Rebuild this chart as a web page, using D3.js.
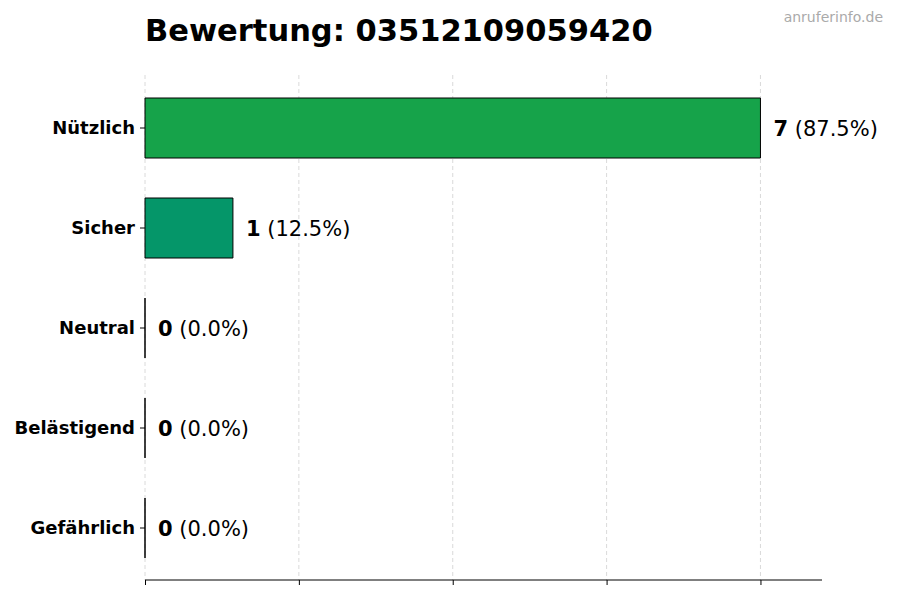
<!DOCTYPE html>
<html>
<head>
<meta charset="utf-8">
<script src="https://cdn.jsdelivr.net/npm/d3@7"></script>
<style>
  body { margin: 0; background: #fff; }
  svg { font-family: "DejaVu Sans", sans-serif; }
</style>
</head>
<body>
<svg id="chart" width="900" height="600"></svg>
<script>
var categories = ['Nützlich', 'Sicher', 'Neutral', 'Belästigend', 'Gefährlich'];
var counts = [7, 1, 0, 0, 0];
var percents = ['87.5%', '12.5%', '0.0%', '0.0%', '0.0%'];
var colors = ['#16a34a', '#059669', '#6b7280', '#f97316', '#dc2626'];
var tickValues = [0, 1.75, 3.5, 5.25, 7];

var svg = d3.select('#chart');

var plotLeft = 145;
var plotRight = 822;
var plotTop = 75;
var plotBottom = 580;

var x = d3.scaleLinear()
  .domain([0, d3.max(counts) * 1.1])
  .range([plotLeft, plotRight]);

var y = d3.scaleBand()
  .domain(categories)
  .range([plotTop + 3, plotBottom - 2])
  .paddingInner(0.4)
  .paddingOuter(0.2);

// grid
svg.append('g')
  .selectAll('line')
  .data(tickValues)
  .join('line')
  .attr('x1', function (d) { return x(d); })
  .attr('x2', function (d) { return x(d); })
  .attr('y1', plotTop)
  .attr('y2', plotBottom)
  .attr('stroke', '#d0d0d0')
  .attr('stroke-width', 0.8)
  .attr('stroke-dasharray', '4,3');

// bars (drawn as paths so zero-width bars still show their edge)
svg.append('g')
  .selectAll('path')
  .data(categories)
  .join('path')
  .attr('d', function (d, i) {
    var x0 = x(0), w = x(counts[i]) - x(0), y0 = y(d), h = y.bandwidth();
    return 'M' + x0 + ',' + y0 + 'h' + w + 'v' + h + 'h' + (-w) + 'Z';
  })
  .attr('fill', function (d, i) { return colors[i]; })
  .attr('stroke', '#000')
  .attr('stroke-width', 1);

// value labels
var labels = svg.append('g')
  .selectAll('text')
  .data(categories)
  .join('text')
  .attr('x', function (d, i) { return x(counts[i]) + 13; })
  .attr('y', function (d) { return y(d) + y.bandwidth() / 2; })
  .attr('dy', '0.36em')
  .attr('font-size', 21)
  .attr('fill', '#000');

labels.append('tspan')
  .attr('font-weight', 'bold')
  .text(function (d, i) { return counts[i]; });
labels.append('tspan')
  .text(function (d, i) { return ' (' + percents[i] + ')'; });

// y axis
var yAxis = svg.append('g')
  .attr('transform', 'translate(' + plotLeft + ',0)')
  .call(d3.axisLeft(y).tickSize(5).tickPadding(5));
yAxis.select('.domain').remove();
yAxis.selectAll('text')
  .attr('font-family', '"DejaVu Sans", sans-serif')
  .attr('font-size', 18)
  .attr('font-weight', 'bold')
  .attr('fill', '#000');

// x axis
var xAxis = svg.append('g')
  .attr('transform', 'translate(0,' + plotBottom + ')')
  .call(d3.axisBottom(x).tickValues(tickValues).tickSize(5).tickFormat(''));
xAxis.select('.domain')
  .attr('d', 'M' + plotLeft + ',0H' + plotRight);

// title
svg.append('text')
  .attr('x', plotLeft)
  .attr('y', 41)
  .attr('font-size', 30.5)
  .attr('font-weight', 'bold')
  .text('Bewertung: 03512109059420');

svg.append('text')
  .attr('x', 883)
  .attr('y', 22)
  .attr('text-anchor', 'end')
  .attr('font-size', 14)
  .attr('fill', '#aaaaaa')
  .text('anruferinfo.de');
</script>
</body>
</html>
